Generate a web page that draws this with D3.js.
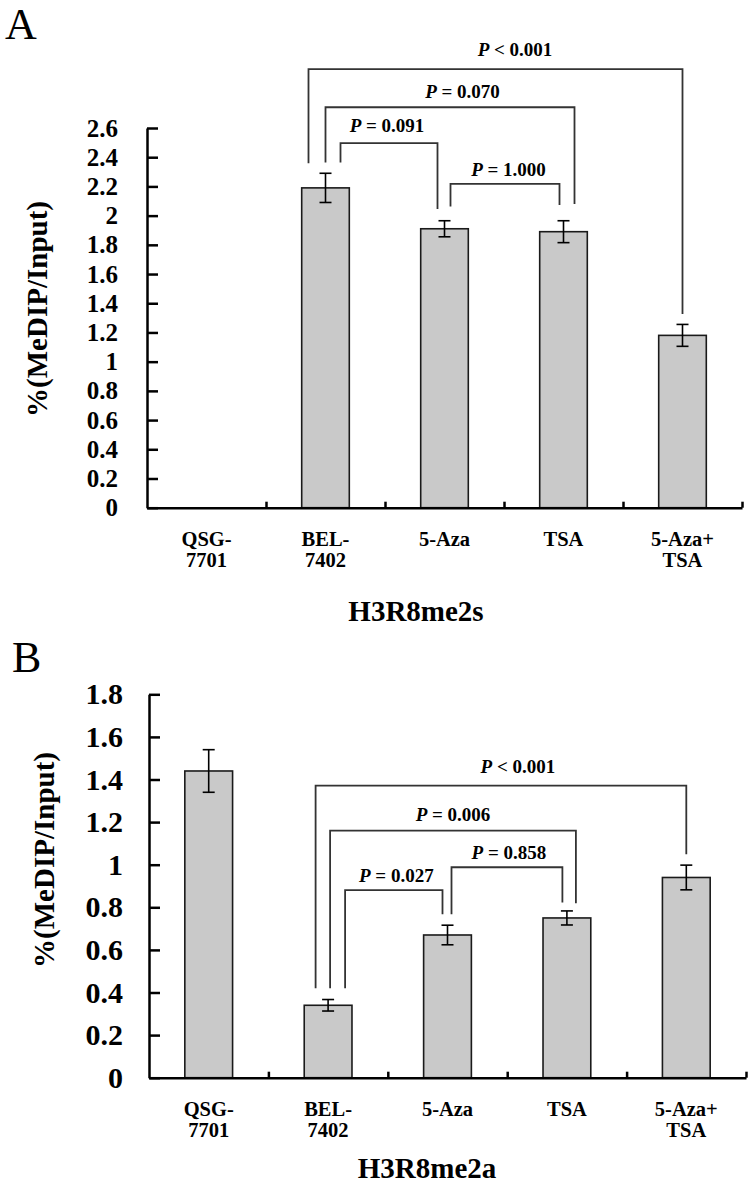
<!DOCTYPE html>
<html>
<head>
<meta charset="utf-8">
<title>H3R8me2s / H3R8me2a - MeDIP</title>
<script src="https://d3js.org/d3.v7.min.js"></script>
<style>
    body { margin: 0; background: #fff; }
    svg { display: block; font-family: "Liberation Serif", "Times New Roman", serif; }

    .axis path,
    .axis line {
        fill: none;
        stroke: #000;
        stroke-width: 2.5;
    }

    .axis text {
        font-family: "Liberation Serif", "Times New Roman", serif;
        font-weight: bold;
        fill: #000;
    }

    .bar { fill: #c9c9c9; stroke: #1a1a1a; stroke-width: 1.6; }
    .err { stroke: #000; stroke-width: 1.6; fill: none; }
    .bracket { stroke: #333; stroke-width: 1.8; fill: none; }
    .plabel { font-size: 19px; font-weight: bold; text-anchor: middle; }
    .cat { font-size: 20.5px; font-weight: bold; text-anchor: middle; }
    .ytitle { font-size: 29px; font-weight: bold; text-anchor: middle; }
    .title { font-size: 29px; font-weight: bold; text-anchor: middle; }
    .panel { font-size: 44px; }
</style>
</head>
<body>
<div id="chart"></div>
<script>
    // categories (x axis), two text lines each
    const categories = ["QSG-7701", "BEL-7402", "5-Aza", "TSA", "5-Aza+TSA"];
    const categoryLines = [["QSG-", "7701"], ["BEL-", "7402"], ["5-Aza"], ["TSA"], ["5-Aza+", "TSA"]];

    // panel A : H3R8me2s
    const meansA = [0, 2.19, 1.91, 1.89, 1.18];
    const errorsA = [0, 0.10, 0.055, 0.075, 0.075];
    const yTicksA = [0, 0.2, 0.4, 0.6, 0.8, 1, 1.2, 1.4, 1.6, 1.8, 2, 2.2, 2.4, 2.6];
    const pairsA = [["BEL-7402", "5-Aza+TSA"], ["BEL-7402", "TSA"], ["BEL-7402", "5-Aza"], ["5-Aza", "TSA"]];
    const pTextA = ["< 0.001", "= 0.070", "= 0.091", "= 1.000"];

    // panel B : H3R8me2a
    const meansB = [1.44, 0.34, 0.67, 0.75, 0.94];
    const errorsB = [0.10, 0.027, 0.046, 0.033, 0.058];
    const yTicksB = [0, 0.2, 0.4, 0.6, 0.8, 1, 1.2, 1.4, 1.6, 1.8];
    const pairsB = [["BEL-7402", "5-Aza+TSA"], ["BEL-7402", "TSA"], ["BEL-7402", "5-Aza"], ["5-Aza", "TSA"]];
    const pTextB = ["< 0.001", "= 0.006", "= 0.027", "= 0.858"];

    const svg = d3.select("#chart").append("svg")
        .attr("width", 755)
        .attr("height", 1198);

    // bracket geometry: top / leg ends in y units, leg offsets and label shift in px
    const panels = [
        {
            letter: "A", letterX: 5, letterY: 39,
            title: "H3R8me2s", titleX: 416, titleY: 621,
            yTitleX: 47, yTitleY: 309,
            x0: 147, x1: 742, yTop: 128, yBottom: 507.7, yMax: 2.6,
            tickPad: 29, tickFont: 25,
            means: meansA, errors: errorsA, ticks: yTicksA, pairs: pairsA, pText: pTextA,
            brackets: [
                { top: 3.003, endL: 2.359, endR: 1.327, dxL: -17, dxR: 0, textY: 3.09, textDx: 19.5 },
                { top: 2.742, endL: 2.363, endR: 2.08, dxL: 0, dxR: 11, textY: 2.804, textDx: 12.5 },
                { top: 2.496, endL: 2.363, endR: 2.046, dxL: 15, dxR: -7, textY: 2.575, textDx: -2 },
                { top: 2.217, endL: 2.062, endR: 2.073, dxL: 6, dxR: -4, textY: 2.272, textDx: 3.5 }
            ]
        },
        {
            letter: "B", letterX: 12, letterY: 672,
            title: "H3R8me2a", titleX: 427, titleY: 1178,
            yTitleX: 54, yTitleY: 860,
            x0: 149, x1: 746, yTop: 694.3, yBottom: 1077.7, yMax: 1.8,
            tickPad: 26, tickFont: 30,
            means: meansB, errors: errorsB, ticks: yTicksB, pairs: pairsB, pText: pTextB,
            brackets: [
                { top: 1.371, endL: 0.42, endR: 1.049, dxL: -12.5, dxR: 0, textY: 1.429, textDx: 17 },
                { top: 1.16, endL: 0.42, endR: 0.819, dxL: 2, dxR: 9, textY: 1.205, textDx: 0 },
                { top: 0.881, endL: 0.42, endR: 0.767, dxL: 17, dxR: -5, textY: 0.92, textDx: 2.5 },
                { top: 0.988, endL: 0.767, endR: 0.822, dxL: 4, dxR: -4.5, textY: 1.025, textDx: 2 }
            ]
        }
    ];

    panels.forEach(drawPanel);

    function drawPanel(cfg) {
        const g = svg.append("g");

        const x = d3.scaleBand().domain(categories).range([cfg.x0, cfg.x1]);
        const y = d3.scaleLinear().domain([0, cfg.yMax]).range([cfg.yBottom, cfg.yTop]);
        const cx = c => x(c) + x.bandwidth() / 2;
        const barW = x.bandwidth() * 0.4;

        const rows = categories.map((c, i) => ({ cat: c, mean: cfg.means[i], err: cfg.errors[i] }))
            .filter(d => d.mean > 0);

        // bars
        g.selectAll(".bar")
            .data(rows)
            .enter()
            .append("rect")
            .attr("class", "bar")
            .attr("x", d => cx(d.cat) - barW / 2)
            .attr("y", d => y(d.mean))
            .attr("width", barW)
            .attr("height", d => y(0) - y(d.mean));

        // error bars
        const eb = g.selectAll(".errg")
            .data(rows)
            .enter()
            .append("g")
            .attr("class", "err");
        eb.append("line")
            .attr("x1", d => cx(d.cat)).attr("x2", d => cx(d.cat))
            .attr("y1", d => y(d.mean - d.err)).attr("y2", d => y(d.mean + d.err));
        eb.append("line")
            .attr("x1", d => cx(d.cat) - 6).attr("x2", d => cx(d.cat) + 6)
            .attr("y1", d => y(d.mean + d.err)).attr("y2", d => y(d.mean + d.err));
        eb.append("line")
            .attr("x1", d => cx(d.cat) - 6).attr("x2", d => cx(d.cat) + 6)
            .attr("y1", d => y(d.mean - d.err)).attr("y2", d => y(d.mean - d.err));

        // y axis, ticks pointing inside
        g.append("g")
            .attr("class", "axis")
            .attr("transform", `translate(${cfg.x0},0)`)
            .call(d3.axisLeft(y)
                .tickValues(cfg.ticks)
                .tickFormat(d => String(+d.toFixed(1)))
                .tickSizeInner(-11)
                .tickSizeOuter(0)
                .tickPadding(cfg.tickPad))
            .selectAll("text")
            .style("font-size", cfg.tickFont + "px");

        // x axis with small ticks between categories
        const xb = d3.scaleLinear().domain([0, categories.length]).range([cfg.x0, cfg.x1]);
        g.append("g")
            .attr("class", "axis")
            .attr("transform", `translate(0,${cfg.yBottom})`)
            .call(d3.axisBottom(xb)
                .tickValues(d3.range(1, categories.length + 1))
                .tickSizeInner(-6)
                .tickSizeOuter(0)
                .tickFormat(""));

        // category labels
        const cl = g.selectAll(".cat")
            .data(categories)
            .enter()
            .append("text")
            .attr("class", "cat")
            .attr("x", d => cx(d))
            .attr("y", cfg.yBottom + 38);
        cl.selectAll("tspan")
            .data((d, i) => categoryLines[i])
            .enter()
            .append("tspan")
            .attr("x", function () { return d3.select(this.parentNode).attr("x"); })
            .attr("dy", (d, i) => i === 0 ? 0 : 21.5)
            .text(d => d);

        // significance brackets
        const line = d3.line();
        cfg.pairs.forEach((p, i) => {
            const b = cfg.brackets[i];
            const xl = cx(p[0]) + b.dxL;
            const xr = cx(p[1]) + b.dxR;
            g.append("path")
                .attr("class", "bracket")
                .attr("d", line([[xl, y(b.endL)], [xl, y(b.top)], [xr, y(b.top)], [xr, y(b.endR)]]));
            const t = g.append("text")
                .attr("class", "plabel")
                .attr("x", (xl + xr) / 2 + b.textDx)
                .attr("y", y(b.textY));
            t.append("tspan").attr("font-style", "italic").text("P");
            t.append("tspan").text(" " + cfg.pText[i]);
        });

        // y axis title
        g.append("text")
            .attr("class", "ytitle")
            .attr("transform", `translate(${cfg.yTitleX},${cfg.yTitleY}) rotate(-90)`)
            .text("%(MeDIP/Input)");

        // chart title under x axis
        g.append("text")
            .attr("class", "title")
            .attr("x", cfg.titleX)
            .attr("y", cfg.titleY)
            .text(cfg.title);

        // panel letter
        g.append("text")
            .attr("class", "panel")
            .attr("x", cfg.letterX)
            .attr("y", cfg.letterY)
            .text(cfg.letter);
    }
</script>
</body>
</html>
